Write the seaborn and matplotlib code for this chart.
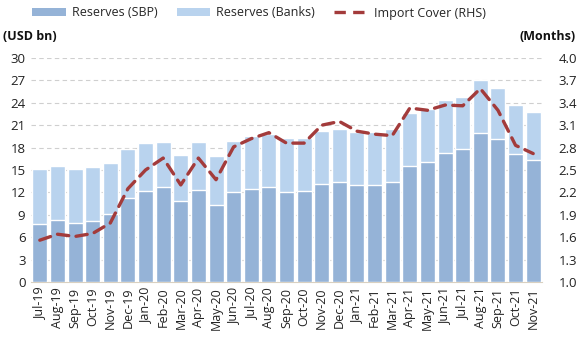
import numpy as np
import pandas as pd
import matplotlib
matplotlib.use("Agg")
import matplotlib.pyplot as plt
import seaborn as sns
from matplotlib.lines import Line2D
from matplotlib.patches import Patch

months = ["Jul-19", "Aug-19", "Sep-19", "Oct-19", "Nov-19", "Dec-19",
          "Jan-20", "Feb-20", "Mar-20", "Apr-20", "May-20", "Jun-20",
          "Jul-20", "Aug-20", "Sep-20", "Oct-20", "Nov-20", "Dec-20",
          "Jan-21", "Feb-21", "Mar-21", "Apr-21", "May-21", "Jun-21",
          "Jul-21", "Aug-21", "Sep-21", "Oct-21", "Nov-21"]
reserves_sbp = [7.8, 8.3, 7.9, 8.2, 9.1, 11.2, 12.2, 12.7, 10.8, 12.3, 10.3, 12.05,
                12.45, 12.7, 12.05, 12.2, 13.1, 13.4, 13.0, 13.0, 13.4, 15.5, 16.1, 17.3,
                17.8, 19.9, 19.1, 17.1, 16.3]
reserves_banks = [7.3, 7.2, 7.2, 7.2, 6.8, 6.6, 6.4, 6.0, 6.2, 6.4, 6.6, 6.85,
                  7.05, 7.1, 7.25, 7.1, 7.1, 7.1, 7.1, 7.1, 7.1, 7.1, 7.1, 7.1,
                  7.0, 7.1, 6.9, 6.6, 6.5]
import_cover = [1.56, 1.64, 1.61, 1.65, 1.79, 2.25, 2.50, 2.66, 2.30, 2.66, 2.37, 2.81,
                2.92, 3.00, 2.86, 2.86, 3.10, 3.15, 3.02, 2.98, 2.96, 3.33, 3.30, 3.37,
                3.36, 3.59, 3.30, 2.83, 2.72]

left_ticks = [0, 3, 6, 9, 12, 15, 18, 21, 24, 27, 30]
right_ticks = [1.0, 1.3, 1.6, 1.9, 2.2, 2.5, 2.8, 3.1, 3.4, 3.7, 4.0]

df = pd.DataFrame({"month": months, "sbp": reserves_sbp, "banks": reserves_banks,
                   "cover": import_cover})
df["total"] = df["sbp"] + df["banks"]

sns.set_theme(style="white")
plt.rcParams["font.family"] = ["Open Sans", "DejaVu Sans"]

c_sbp = "#95B3D7"
c_banks = "#B9D3EE"
c_line = "#A33B3B"

fig = plt.figure(figsize=(5.79, 3.39), dpi=100)
ax = fig.add_axes([31 / 579, 1 - 282 / 339, 511 / 579, 224 / 339])

sns.barplot(data=df, x="month", y="total", color=c_banks, saturation=1,
            width=0.85, ax=ax, zorder=2)
sns.barplot(data=df, x="month", y="sbp", color=c_sbp, saturation=1,
            width=0.85, ax=ax, zorder=3)

ax.set_ylim(0, 30)
ax.set_yticks(left_ticks)
ax.set_yticklabels([str(t) for t in left_ticks], fontsize=9.5, color="#222222")
ax.set_xlim(-0.5, len(months) - 0.5)
ax.set_xlabel("")
ax.set_ylabel("")
ax.yaxis.grid(True, linestyle=(0, (4, 3)), color="#CFCFCF", linewidth=0.8, zorder=0)
ax.set_axisbelow(True)
for s in ["top", "left", "right"]:
    ax.spines[s].set_visible(False)
ax.spines["bottom"].set_color("#D9D0C0")
ax.spines["bottom"].set_linewidth(0.8)
ax.tick_params(axis="y", length=0, pad=4)
ax.set_xticks(range(len(months)))
ax.set_xticklabels(months, rotation=90, fontsize=9, color="#222222")
ax.tick_params(axis="x", which="major", length=0, pad=4)
ax.set_xticks(np.arange(-0.5, len(months), 1), minor=True)
ax.tick_params(axis="x", which="minor", length=4, color="#D9D0C0", width=0.8)

ax2 = ax.twinx()
sns.lineplot(x=np.arange(len(months)), y=df["cover"], ax=ax2, color=c_line,
             linewidth=2.4, zorder=5)
ax2.lines[0].set_dashes([3.4, 2.2])
ax2.lines[0].set_dash_capstyle("round")
ax2.set_ylim(1.0, 4.0)
ax2.set_yticks(right_ticks)
ax2.set_yticklabels([f"{t:.1f}" for t in right_ticks], fontsize=9.5, color="#222222")
ax2.set_ylabel("")
ax2.tick_params(axis="y", length=0, pad=12)
ax2.grid(False)
for s in ["top", "left", "right", "bottom"]:
    ax2.spines[s].set_visible(False)

fig.text(3 / 579, 1 - 37 / 339, "(USD bn)", fontsize=9, fontweight="bold",
         ha="left", va="center", color="#111111")
fig.text(576 / 579, 1 - 37 / 339, "(Months)", fontsize=9, fontweight="bold",
         ha="right", va="center", color="#111111")

handles = [Patch(facecolor=c_sbp, edgecolor="none"),
           Patch(facecolor=c_banks, edgecolor="none"),
           Line2D([0], [0], color=c_line, linewidth=2.4, dashes=[3.4, 2.2])]
labels = ["Reserves (SBP)", "Reserves (Banks)", "Import Cover (RHS)"]
fig.legend(handles, labels, loc="center", bbox_to_anchor=(259 / 579, 1 - 13 / 339),
           ncol=3, frameon=False, fontsize=9, handlelength=2.7, handleheight=0.6,
           columnspacing=1.5, handletextpad=0.5)

fig.savefig("out.png", dpi=100)
